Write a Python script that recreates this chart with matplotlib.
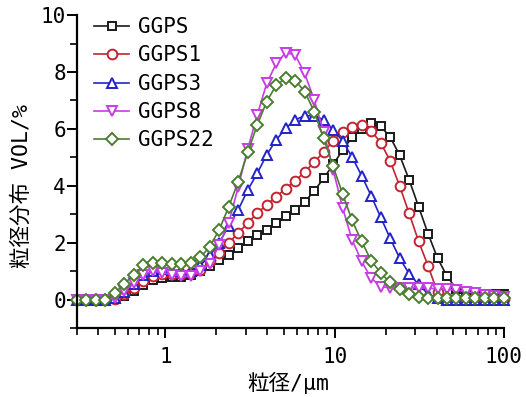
import matplotlib
matplotlib.use("Agg")
import matplotlib.pyplot as plt
from matplotlib.ticker import FixedLocator, NullFormatter, FuncFormatter

# particle size grid (um)
size_um = [0.300, 0.3413, 0.3884, 0.4418, 0.5027, 0.5719, 0.6507, 0.7404, 0.8424, 0.9587,
           1.0908, 1.2411, 1.4122, 1.6067, 1.8281, 2.0801, 2.3667, 2.6927, 3.0638, 3.4859,
           3.9663, 4.5128, 5.1346, 5.8421, 6.6472, 7.5631, 8.6053, 9.7920, 11.140, 12.677,
           14.423, 16.411, 18.672, 21.245, 24.173, 27.504, 31.294, 35.606, 40.513, 46.096,
           52.448, 59.675, 67.899, 77.255, 87.901, 100.0]

ggps = [0, 0, 0, 0, 0.02, 0.12, 0.29, 0.52, 0.68, 0.76, 0.79, 0.81, 0.88, 0.99, 1.17, 1.40,
        1.58, 1.81, 2.05, 2.27, 2.46, 2.69, 2.92, 3.16, 3.43, 3.82, 4.26, 4.75, 5.25, 5.71,
        5.98, 6.20, 6.09, 5.72, 5.08, 4.22, 3.27, 2.32, 1.46, 0.82, 0.37, 0.25, 0.22, 0.20,
        0.20, 0.20]
ggps1 = [0, 0, 0, 0, 0.03, 0.18, 0.41, 0.66, 0.84, 0.90, 0.90, 0.91, 0.94, 1.05, 1.34, 1.64,
         2.00, 2.34, 2.69, 3.04, 3.33, 3.62, 3.90, 4.18, 4.48, 4.83, 5.18, 5.58, 5.90, 6.08,
         6.12, 5.94, 5.52, 4.88, 4.00, 3.04, 2.05, 1.19, 0.25, 0.05, 0.02, 0.02, 0.02, 0.02,
         0.02, 0.02]
ggps3 = [0, 0, 0, 0, 0.05, 0.25, 0.55, 0.85, 1.00, 1.08, 1.05, 1.00, 1.02, 1.20, 1.55, 2.00,
         2.60, 3.16, 3.85, 4.44, 5.09, 5.61, 6.02, 6.32, 6.46, 6.46, 6.32, 5.96, 5.58, 5.00,
         4.36, 3.65, 2.90, 2.16, 1.46, 0.91, 0.53, 0.20, 0.05, 0, 0, 0, 0, 0, 0, 0]
ggps8 = [0, 0, 0, 0, 0.06, 0.29, 0.59, 0.88, 1.00, 0.94, 0.88, 0.82, 0.82, 1.00, 1.25, 1.93,
         2.70, 3.97, 5.30, 6.49, 7.60, 8.30, 8.68, 8.60, 7.95, 7.02, 5.90, 4.56, 3.22, 2.10,
         1.34, 0.76, 0.45, 0.42, 0.42, 0.42, 0.41, 0.40, 0.38, 0.36, 0.33, 0.28, 0.22, 0.17,
         0.13, 0.10]
ggps22 = [0, 0, 0, 0, 0.23, 0.56, 0.88, 1.20, 1.29, 1.30, 1.26, 1.25, 1.30, 1.48, 1.86, 2.46,
          3.27, 4.15, 5.18, 6.14, 6.96, 7.54, 7.78, 7.70, 7.31, 6.61, 5.67, 4.68, 3.71, 2.78,
          2.05, 1.37, 0.94, 0.60, 0.38, 0.21, 0.10, 0.06, 0.05, 0.05, 0.05, 0.05, 0.05, 0.05,
          0.05, 0.05]

labels = ["GGPS", "GGPS1", "GGPS3", "GGPS8", "GGPS22"]
series = [ggps, ggps1, ggps3, ggps8, ggps22]
colors = ["#1a1a1a", "#c42330", "#2222c8", "#c83ce6", "#4a7d2e"]
markers = ["s", "o", "^", "v", "D"]
msizes = [6.0, 7.0, 7.5, 7.5, 6.5]

fam = ["DejaVu Sans Mono", "Noto Sans CJK JP"]
plt.rcParams["font.family"] = fam

fig = plt.figure(figsize=(5.26, 3.97), dpi=100)
ax = fig.add_axes([0.1464, 0.1738, 0.8116, 0.7882])

for y, lab, c, m, ms in zip(series, labels, colors, markers, msizes):
    ax.plot(size_um, y, color=c, lw=1.2, marker=m, ms=ms, mfc="white", mec=c,
            mew=1.4, label=lab, clip_on=False)

ax.set_xscale("log")
ax.set_xlim(0.3, 100)
ax.set_ylim(-1, 10)

ax.xaxis.set_major_locator(FixedLocator([1, 10, 100]))
ax.xaxis.set_major_formatter(FuncFormatter(lambda v, p: "%g" % v))
minors = [k * 10.0 ** e for e in (-1, 0, 1) for k in range(2, 10)]
ax.xaxis.set_minor_locator(FixedLocator([v for v in minors if 0.3 <= v <= 100]))
ax.xaxis.set_minor_formatter(NullFormatter())
ax.yaxis.set_major_locator(FixedLocator([0, 2, 4, 6, 8, 10]))
ax.yaxis.set_minor_locator(FixedLocator([-1, 1, 3, 5, 7, 9]))

for s in ("top", "right"):
    ax.spines[s].set_visible(False)
for s in ("left", "bottom"):
    ax.spines[s].set_linewidth(1.6)

ax.tick_params(axis="both", which="major", direction="out", length=7, width=1.4,
               labelsize=15, colors="black")
ax.tick_params(axis="both", which="minor", direction="out", length=5, width=1.2)
ax.tick_params(axis="y", which="major", pad=1)
ax.tick_params(axis="x", which="major", pad=7)

leg = ax.legend(loc="upper left", bbox_to_anchor=(0.02, 1.02), frameon=False,
                fontsize=15, handlelength=1.7, handletextpad=0.4, labelspacing=0.4,
                borderaxespad=0.0)

fig.text(22 / 526, 1 - 186 / 397, "粒径分布 VOL/%", rotation=90, ha="center",
         va="center", fontsize=15.5, family=fam)
fig.text(288 / 526, 1 - 383 / 397, "粒径/μm", ha="center", va="center",
         fontsize=15.5, family=fam)

fig.savefig("out.png", dpi=100)
